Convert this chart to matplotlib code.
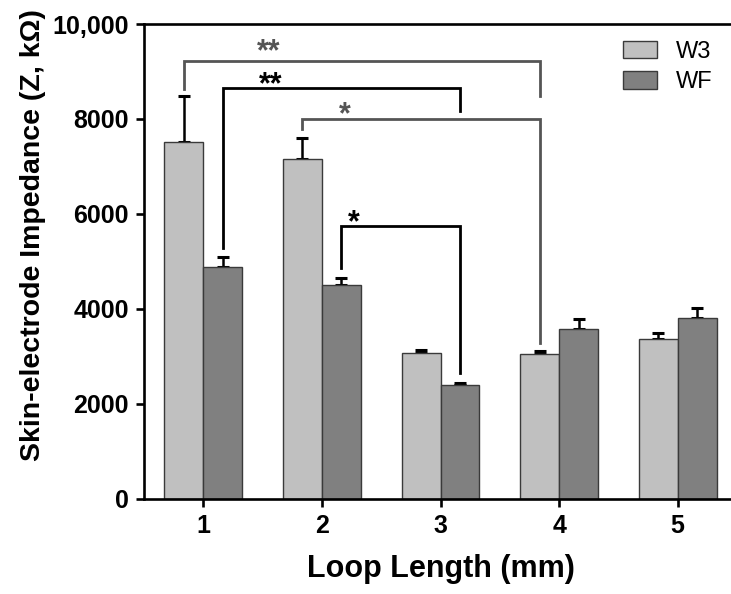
import numpy as np
import matplotlib.pyplot as plt

# ==============================================================================
# DADOS
# ==============================================================================
loop_length = [1, 2, 3, 4, 5]
w3_mean = [7520, 7160, 3075, 3040, 3355]
w3_err = [965, 430, 50, 75, 125]
wf_mean = [4875, 4495, 2392, 3582, 3798]
wf_err = [220, 160, 50, 200, 217]

y_ticks = [0, 2000, 4000, 6000, 8000, 10000]
y_tick_labels = ['0', '2000', '4000', '6000', '8000', '10,000']

# colchetes de significancia: (grupo esq, serie esq, grupo dir, serie dir,
#                              altura, base esq, base dir, rotulo, x rotulo, y rotulo, cor)
brackets = [
    (1, 'W3', 4, 'W3', 9230, 8620, 8480, '**', 1.55, 9230, '#555555'),
    (1, 'WF', 3, 'WF', 8660, 5270, 8170, '**', 1.565, 8540, 'black'),
    (2, 'W3', 4, 'W3', 7990, 7780, 3270, '*', 2.195, 7900, '#555555'),
    (2, 'WF', 3, 'WF', 5743, 4850, 2650, '*', 2.27, 5625, 'black'),
]

# ==============================================================================
# FIGURA
# ==============================================================================
plt.rcParams['font.family'] = ['Liberation Sans', 'DejaVu Sans']

W, H = 731, 594
fig = plt.figure(figsize=(W / 100, H / 100), dpi=100)
ax = fig.add_axes([144 / W, (H - 498.5) / H, (737 - 144) / W, (498.5 - 24) / H])

x = np.array(loop_length, dtype=float)
bw = 0.328
offset = {'W3': -bw / 2, 'WF': bw / 2}

ax.bar(x + offset['W3'], w3_mean, bw, color='#c0c0c0', edgecolor='#3a3a3a',
       linewidth=1.0, label='W3', zorder=2)
ax.bar(x + offset['WF'], wf_mean, bw, color='#808080', edgecolor='#3a3a3a',
       linewidth=1.0, label='WF', zorder=2)

for xs, m, e in [(x + offset['W3'], w3_mean, w3_err), (x + offset['WF'], wf_mean, wf_err)]:
    ax.errorbar(xs, m, yerr=[np.zeros(len(e)), e], fmt='none', ecolor='black',
                elinewidth=1.8, capsize=4.5, capthick=2.2, zorder=1)

for g1, s1, g2, s2, h, b1, b2, txt, tx, ty, cor in brackets:
    x1 = g1 + offset[s1]
    x2 = g2 + offset[s2]
    ax.plot([x1, x1, x2, x2], [b1, h, h, b2], color=cor, lw=2.0,
            solid_joinstyle='miter', zorder=3)
    ax.text(tx, ty, txt, ha='center', va='baseline', fontsize=22,
            fontweight='bold', color=cor)

ax.set_xlim(0.5, 5.5)
ax.set_ylim(0, 10000)
ax.set_xticks(loop_length)
ax.set_xticklabels([str(v) for v in loop_length])
ax.set_yticks(y_ticks)
ax.set_yticklabels(y_tick_labels)

for lado in ['left', 'bottom', 'top']:
    ax.spines[lado].set_linewidth(1.9)
ax.spines['right'].set_visible(False)

ax.tick_params(axis='both', direction='out', length=6, width=1.9,
               labelsize=18, pad=5)
for t in ax.get_xticklabels() + ax.get_yticklabels():
    t.set_fontweight('bold')

ax.set_xlabel('Loop Length (mm)', fontsize=22, fontweight='bold', labelpad=12)
ax.set_ylabel('Skin-electrode Impedance (Z, k\u03a9)', fontsize=20.5, fontweight='bold')
ax.yaxis.set_label_coords(-0.165, 0.555)

leg = ax.legend(loc='upper left', bbox_to_anchor=(623 / W, (H - 41) / H),
                bbox_transform=fig.transFigure, frameon=False, fontsize=17,
                handlelength=1.45, handleheight=0.75, handletextpad=0.8,
                labelspacing=0.35, borderpad=0, borderaxespad=0)

fig.savefig('out.png', dpi=100)
